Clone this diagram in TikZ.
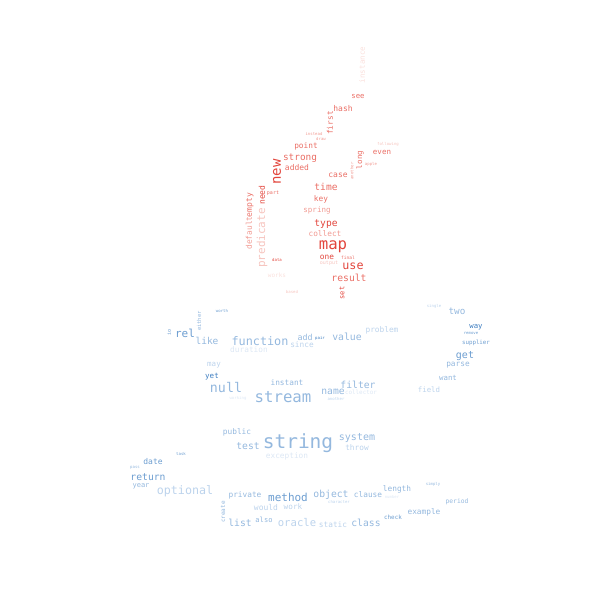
\documentclass[tikz,border=0pt]{standalone}
\usepackage{fontspec}
\setmonofont{DejaVu Sans Mono}
\definecolor{ra}{HTML}{E2453C}
\definecolor{rb}{HTML}{EA6E65}
\definecolor{rc}{HTML}{F19A92}
\definecolor{rd}{HTML}{F6C4BE}
\definecolor{re}{HTML}{FAE0DC}
\definecolor{ba}{HTML}{3D7DC0}
\definecolor{bb}{HTML}{6C9DD0}
\definecolor{bc}{HTML}{94B8DE}
\definecolor{bd}{HTML}{BCD3EC}
\definecolor{be}{HTML}{DCE7F4}
\newcommand{\wcfs}[1]{\fontsize{#1}{#1}\selectfont}
\tikzset{wc/.style={inner sep=0pt, outer sep=0pt, anchor=center},
  vert/.style={rotate=90}}
\newcommand{\W}[6][]{\node[wc,#1,text=#5,font=\ttfamily\wcfs{#4}] (w-#6) at (#2,#3) {#6};}
\begin{document}
\begin{tikzpicture}[x=1pt,y=-1pt]
\useasboundingbox (0,0) rectangle (612,612);
% red words
\W[vert]{362}{65}{7.5}{re}{instance}
\W{358}{97}{7.3}{rb}{see}
\W{343}{109}{8}{rb}{hash}
\W[vert]{330}{123}{7.8}{rb}{first}
\W{314}{134}{4}{rc}{instead}
\W{321}{139}{4}{rc}{draw}
\W{306}{146}{7.8}{rb}{point}
\W{388}{144}{4}{rd}{following}
\W{382}{152}{7.5}{rb}{even}
\W[vert]{360}{160}{7.5}{rb}{long}
\W{371}{164}{4}{rc}{apple}
\W{300}{158}{9.4}{rb}{strong}
\W[vert]{277}{172}{14}{ra}{new}
\W{297}{168}{8}{rb}{added}
\W{338}{175}{8}{rb}{case}
\W[vert]{352}{171}{4}{rc}{another}
\W{326}{187}{9.6}{rb}{time}
\W{321}{199}{7.8}{rb}{key}
\W{273}{193}{5}{rb}{part}
\W[vert]{262}{195}{8}{ra}{need}
\W[vert]{250}{205}{8}{rb}{empty}
\W[vert]{249}{233}{7.9}{rc}{default}
\W[vert]{262}{238}{11}{rd}{predicate}
\W{277}{260}{4}{ra}{data}
\W{277}{275}{6}{re}{works}
\W{317}{210}{7.5}{rc}{spring}
\W{326}{224}{9.6}{ra}{type}
\W{325}{234}{7.8}{rc}{collect}
\W{333}{247}{15.7}{ra}{map}
\W{327}{257}{7.8}{ra}{one}
\W{348}{258}{4.5}{rb}{final}
\W{329}{263}{5}{rd}{output}
\W{353}{266}{11.7}{ra}{use}
\W{349}{278}{9.7}{rb}{result}
\W{292}{292}{4}{rd}{based}
\W[vert]{342}{293}{7}{ra}{set}
% blue words
\W{222}{311}{4}{bb}{worth}
\W[vert]{199}{321}{5.5}{bc}{either}
\W[vert]{169}{332}{5}{bb}{io}
\W{185}{333}{11}{bb}{rel}
\W{207}{341}{9.5}{bc}{like}
\W{260}{341}{11.8}{bc}{function}
\W{249}{350}{7.8}{be}{duration}
\W{305}{337}{8.3}{bc}{add}
\W{302}{345}{7.8}{bd}{since}
\W{320}{338}{4}{ba}{pair}
\W{214}{365}{7.5}{bd}{may}
\W{212}{377}{7.5}{ba}{yet}
\W{226}{388}{13.3}{bc}{null}
\W{287}{383}{7.8}{bc}{instant}
\W{283}{397}{15.7}{bc}{stream}
\W{238}{398}{4}{be}{working}
\W{333}{392}{9.7}{bc}{name}
\W{434}{306}{4}{bd}{single}
\W{457}{311}{9.3}{bc}{two}
\W{382}{330}{7.8}{bd}{problem}
\W{347}{337}{9.8}{bc}{value}
\W{476}{327}{7.3}{ba}{way}
\W{471}{333}{4}{bb}{remove}
\W{476}{343}{5.8}{bb}{supplier}
\W{465}{356}{10}{bb}{get}
\W{458}{365}{7.8}{bc}{parse}
\W{448}{378}{7.4}{bc}{want}
\W{358}{385}{9.7}{bc}{filter}
\W{361}{392}{5.9}{be}{collector}
\W{429}{390}{7.4}{bd}{field}
\W{336}{399}{4}{bd}{another}
\W{237}{432}{7.8}{bc}{public}
\W{248}{446}{9.7}{bc}{test}
\W{298}{443}{19.5}{bc}{string}
\W{287}{456}{7.8}{be}{exception}
\W{181}{454}{4}{bb}{task}
\W{153}{462}{8}{bb}{date}
\W{135}{468}{4}{bc}{pass}
\W{148}{477}{9.7}{bb}{return}
\W{141}{486}{7}{bc}{year}
\W{185}{491}{11.7}{bd}{optional}
\W{245}{495}{7.8}{bc}{private}
\W{288}{497}{11}{bb}{method}
\W{331}{495}{9.7}{bc}{object}
\W{368}{495}{7.8}{bc}{clause}
\W{397}{489}{7.8}{bc}{length}
\W{339}{502}{4}{bd}{character}
\W{392}{497}{4}{be}{number}
\W{433}{484}{4}{bc}{simply}
\W{457}{502}{6.3}{bc}{period}
\W[vert]{223}{512}{6}{bc}{create}
\W{266}{507}{8}{bd}{would}
\W{293}{507}{7.7}{bd}{work}
\W{240}{523}{9.7}{bc}{list}
\W{264}{520}{7.1}{bc}{also}
\W{297}{523}{10.6}{bd}{oracle}
\W{333}{525}{7.8}{bd}{static}
\W{366}{523}{9.7}{bc}{class}
\W{393}{517}{5.9}{bb}{check}
\W{424}{512}{7.8}{bc}{example}
\W{357}{438}{10}{bc}{system}
\W{357}{448}{7.8}{bd}{throw}
\end{tikzpicture}
\end{document}
